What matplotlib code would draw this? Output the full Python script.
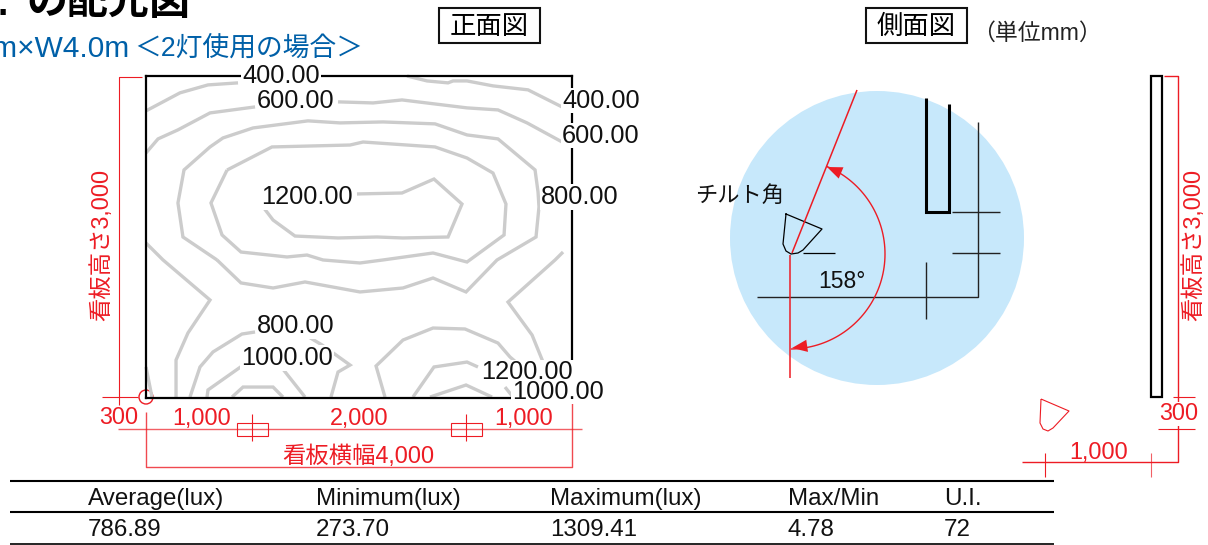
import numpy as np
import matplotlib
matplotlib.use("Agg")
import matplotlib.pyplot as plt

plt.rcParams['font.family'] = ['Liberation Sans', 'Noto Sans CJK JP', 'DejaVu Sans']

W, H = 1208, 545
RED = '#ed1c24'
GREY = '#cccccc'
BLUE = '#0060a8'

# isolux lines on the board, (x mm, y mm)
c400_left = [(0, 2675), (319, 2843), (582, 2917), (864, 2936)]
c400_right = [(2451, 3000), (2639, 2954), (2836, 2936), (2883, 2954), (3014, 2954),
              (3258, 2908), (3587, 2871), (3906, 2712)]
c400_corner = [(0, 289), (56, 9)]
c600_left = [(0, 2283), (113, 2414), (300, 2498), (601, 2656), (1024, 2712)]
c600_right = [(1803, 2759), (2132, 2749), (2404, 2777), (3014, 2703), (3305, 2684),
              (3578, 2563), (3906, 2386)]
c600_low_left = [(0, 1444), (160, 1286), (601, 913), (394, 606), (282, 354), (282, 9)]
c600_low_right = [(3916, 1360), (3841, 1286), (3399, 894), (3625, 587), (3728, 335)]
c800_loop = [(667, 1286), (347, 1500), (300, 1817), (357, 2125), (601, 2339), (723, 2423),
             (1005, 2516), (1521, 2582), (1822, 2563), (2225, 2572), (2714, 2554),
             (3014, 2451), (3305, 2414), (3653, 2125), (3681, 1920), (3690, 1780),
             (3662, 1500), (3296, 1286), (3005, 988), (2695, 1118), (2413, 1025),
             (2009, 988), (1493, 1081), (1193, 1025), (892, 1072), (667, 1286)]
c800_low_a = [(413, 9), (507, 289), (629, 429), (901, 596), (1024, 615)]
c800_low_b = [(1512, 578), (1653, 494), (1916, 307), (1803, 242), (1737, 9)]
c800_low_c = [(2244, 9), (2160, 298), (2413, 540), (2695, 652), (2995, 643), (3305, 512),
              (3418, 382), (3484, 326)]
c1000_loop = [(761, 2124), (610, 1817), (714, 1519), (892, 1360), (1324, 1314), (1512, 1332),
              (1662, 1286), (2009, 1258), (2225, 1286), (2695, 1351), (3014, 1267),
              (3362, 1519), (3380, 1807), (3258, 2096), (3014, 2236), (2714, 2339),
              (2038, 2385), (1916, 2357), (1183, 2339), (761, 2124)]
c1000_low_a = [(573, 9), (582, 75), (901, 298)]
c1000_low_b = [(1277, 280), (1493, 9)]
c1000_low_c = [(2507, 9), (2704, 289), (3014, 335), (3117, 289)]
c1000_low_d = [(3371, 102), (3446, 9)]
c1200_loop = [(1099, 1780), (1193, 1658), (1399, 1509), (1803, 1491), (2169, 1500),
              (2413, 1491), (2836, 1500), (2967, 1807), (2704, 2040), (2404, 1910), (1981, 1901)]
c1200_low_a = [(808, 9), (911, 102), (1193, 102), (1286, 9)]
c1200_low_b = [(2667, 9), (3005, 121), (3249, 9)]

contours = [c400_left, c400_right, c400_corner, c600_left, c600_right, c600_low_left,
            c600_low_right, c800_loop, c800_low_a, c800_low_b, c800_low_c, c1000_loop,
            c1000_low_a, c1000_low_b, c1000_low_c, c1000_low_d, c1200_loop, c1200_low_a,
            c1200_low_b]

label_text = ['400.00', '600.00', '400.00', '600.00', '1200.00', '800.00', '800.00',
              '1000.00', '1200.00', '1000.00']
label_x = [1268, 1408, 4272, 4272, 1512, 4075, 1408, 1324, 3578, 3869]
label_y = [3003, 2770, 2770, 2444, 1875, 1875, 673, 375, 238, 60]

# results table
table_head = ['Average(lux)', 'Minimum(lux)', 'Maximum(lux)', 'Max/Min', 'U.I.']
table_vals = ['786.89', '273.70', '1309.41', '4.78', '72']
table_x = [88, 316, 550, 788, 944]

tilt_label = '158°'

fig = plt.figure(figsize=(W / 100, H / 100), dpi=100)

# page axes in pixels, for the drawing annotations
page = fig.add_axes([0, 0, 1, 1])
page.set_xlim(0, W)
page.set_ylim(H, 0)
page.axis('off')


def red(xs, ys, lw=0.8, **kw):
    page.plot(xs, ys, color=RED, lw=lw, solid_capstyle='butt', **kw)


def black(xs, ys, lw=1.0, color='#222222'):
    page.plot(xs, ys, color=color, lw=lw, solid_capstyle='butt', solid_joinstyle='miter')


# headings
page.text(190, 3, 'の配光図', fontsize=29.5, fontweight='bold', ha='right', va='center', color='black')
page.text(-2, 5, '.', fontsize=27, fontweight='bold', ha='left', va='center', color='black')
# the latin part is set wider than the kana in the original, hence two pieces
page.text(130, 49, 'H3.0m×W4.0m', fontsize=21.5, ha='right', va='center', color=BLUE)
page.text(363, 49, '＜2灯使用の場合＞', fontsize=19.3, ha='right', va='center', color=BLUE)
for x0, name in [(439, '正面図'), (866, '側面図')]:
    page.add_patch(plt.Rectangle((x0, 8), 101, 35, fill=False, ec='#111111', lw=1.5))
    page.text(x0 + 50, 27, name, fontsize=19, ha='center', va='center')
page.text(1037, 33, '（単位mm）', fontsize=16.5, ha='center', va='center', color='#222222')

# front view dimensions
red([142, 119, 119], [77, 77, 405])
red([102, 138], [397, 397])
page.add_patch(plt.Circle((146, 397), 7, fill=False, ec=RED, lw=1))
red([118, 582], [429, 429], lw=1.0, alpha=0.7)
red([146, 146, 572, 572], [412, 467, 467, 403], lw=1.0, alpha=0.8)
for x0 in [237, 451]:
    page.add_patch(plt.Rectangle((x0, 423), 31, 13, fill=False, ec=RED, lw=0.8))
    red([x0 + 15, x0 + 15], [414, 441])
for x, y, s in [(119, 418, '300'), (202, 419, '1,000'), (359, 419, '2,000'), (524, 419, '1,000'),
                (358, 457, '看板横幅4,000')]:
    page.text(x, y, s, color=RED, fontsize=16.8, ha='center', va='center')
page.text(102, 245, '看板高さ3,000', color=RED, fontsize=16.8, rotation=90, ha='center', va='center')

# side view
page.add_patch(plt.Circle((877, 238), 147, fc='#c7e8fb', ec='none'))
black([926, 926, 949, 949], [98, 212, 212, 104], lw=2.2, color='black')
black([978, 978, 757], [122, 297, 297])
black([926, 926], [262, 319])
black([952, 1000], [212, 212])
black([952, 1000], [253, 253])
black([803, 835], [253, 253], lw=0.9, color='black')
lamp_x = [786, 822, 803, 798, 791, 786, 783, 786]
lamp_y = [214, 229, 250, 253, 254, 251, 244, 214]
page.plot(lamp_x, lamp_y, color='black', lw=0.9)
red([857, 792], [90, 253], lw=1.1)
red([790, 790], [255, 378], lw=1.1)
t = np.radians(np.linspace(-67, 89, 80))
page.plot(790 + 95 * np.cos(t), 254 + 95 * np.sin(t), color=RED, lw=1.0)
for tip, tail in [((827, 167), (846, 175)), ((792, 348), (813, 345))]:
    page.annotate('', xy=tip, xytext=tail,
                  arrowprops=dict(arrowstyle='-|>,head_length=0.55,head_width=0.22', color=RED,
                                  lw=0, mutation_scale=20, shrinkA=0, shrinkB=0))
page.text(740, 196, 'チルト角', fontsize=16, ha='center', va='center', color='#111111')
page.text(842, 281, tilt_label, fontsize=16.5, ha='center', va='center', color='#111111')

# board seen from the side, with its dimensions
page.add_patch(plt.Rectangle((1151, 76), 11, 321, fill=False, ec='black', lw=1.6))
red([1164, 1178, 1178, 1022], [76, 76, 462, 462], lw=1.0)
red([1173, 1195], [397, 397])
red([1158, 1195], [429, 429])
red([1045, 1045], [453, 477])
red([1151, 1151], [453, 477], alpha=0.7)
page.text(1179, 414, '300', color=RED, fontsize=16.8, ha='center', va='center',
          bbox=dict(fc='white', ec='none', pad=0.5))
page.text(1099, 452, '1,000', color=RED, fontsize=16.8, ha='center', va='center')
page.text(1194, 245, '看板高さ3,000', color=RED, fontsize=16.8, rotation=90, ha='center', va='center')
red([1041, 1069, 1053, 1048, 1043, 1040, 1041], [399, 411, 428, 431, 429, 423, 399])

# table
for y, lw in [(481, 1.5), (512, 1.5), (544, 1.2)]:
    page.plot([10, 1054], [y, y], color='black', lw=lw, solid_capstyle='butt')
for x, head, val in zip(table_x, table_head, table_vals):
    page.text(x, 499, head, fontsize=17.4, ha='left', va='center', color='#111111')
    page.text(x, 530, val, fontsize=17.4, ha='left', va='center', color='#111111')

# front view, in mm on the board
board = fig.add_axes([146 / W, 1 - 398 / H, 426 / W, 322 / H])
board.set_xlim(0, 4000)
board.set_ylim(0, 3000)
board.patch.set_visible(False)
board.set_xticks([])
board.set_yticks([])
for s in board.spines.values():
    s.set_linewidth(1.6)
for line in contours:
    xs, ys = zip(*line)
    board.plot(xs, ys, color=GREY, lw=2.4, solid_joinstyle='miter', solid_capstyle='butt', clip_on=False)
# white backings first so that neighbouring labels do not cut each other
for s, x, y in zip(label_text, label_x, label_y):
    board.text(x, y, s, fontsize=18.3, ha='center', va='center', color='white', zorder=4,
               bbox=dict(fc='white', ec='none', pad=0.5))
for s, x, y in zip(label_text, label_x, label_y):
    board.text(x, y, s, fontsize=18.3, ha='center', va='center', color='#111111', zorder=5)

fig.savefig('out.png', dpi=100)
